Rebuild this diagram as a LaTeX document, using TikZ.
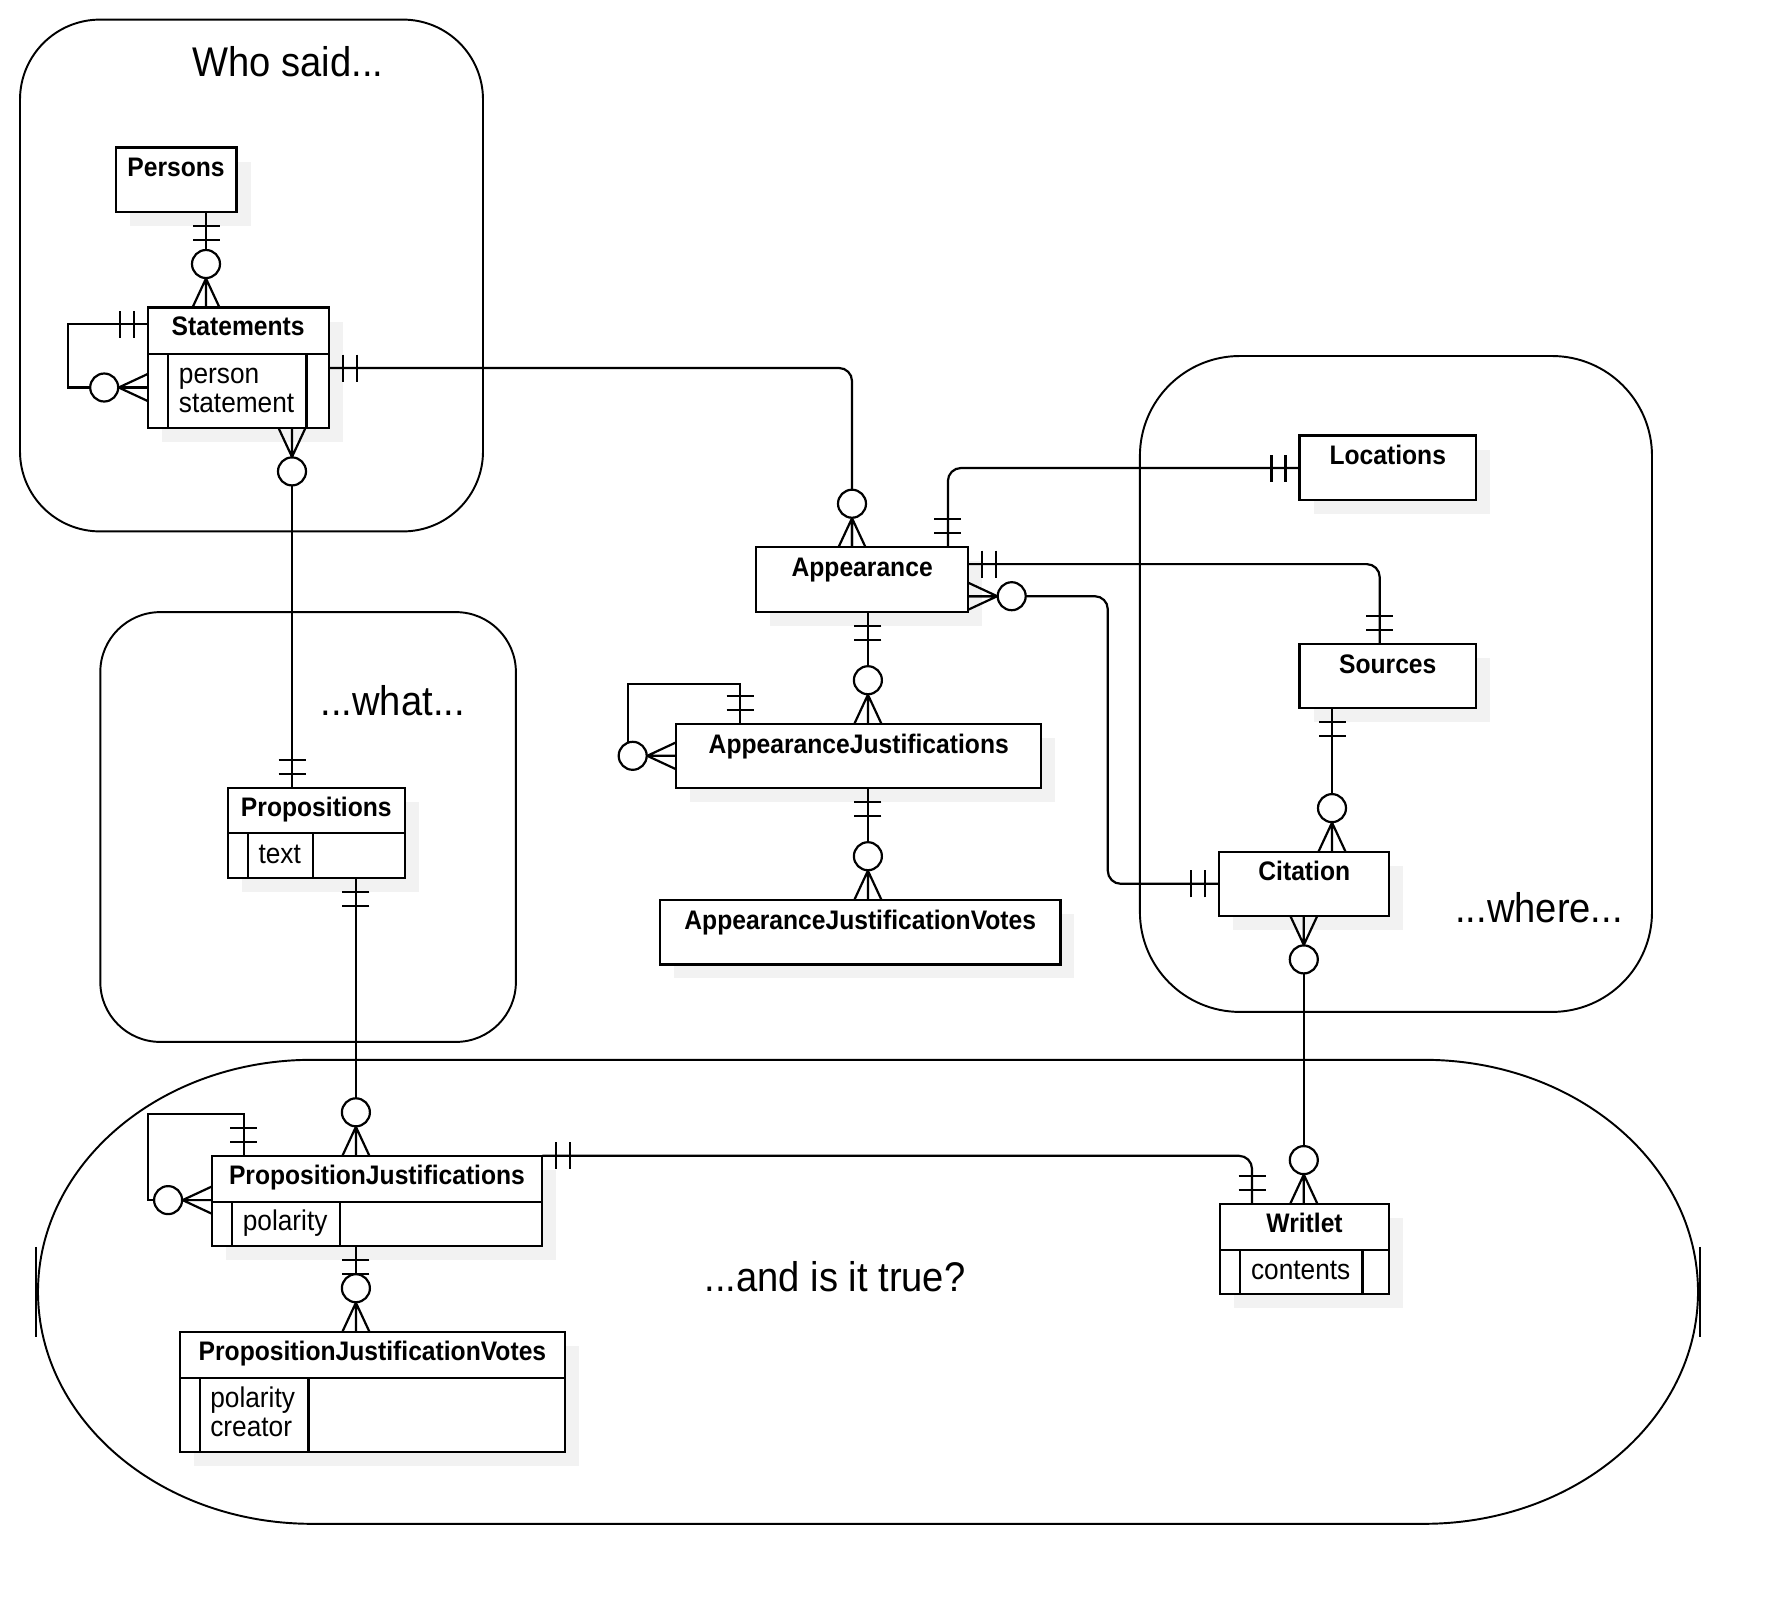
\documentclass[tikz,border=0pt]{standalone}
\usepackage{fontspec}
\setmainfont{Liberation Sans}[FakeStretch=0.92]
\usetikzlibrary{shadows}
\definecolor{shgray}{RGB}{242,242,242}
\tikzset{
  cont/.style={draw, line width=1.45pt},
  ebox/.style={draw, fill=white, line width=1.65pt, inner sep=0pt, outer sep=0pt,
    drop shadow={shadow xshift=10.5pt, shadow yshift=-10.5pt, fill=shgray, opacity=1}},
  eline/.style={line width=1.65pt},
  conn/.style={line width=1.65pt},
  rc/.style={rounded corners=9.75pt},
  mk/.style={line width=1.65pt},
  ttl/.style={anchor=base, inner sep=0pt, font=\bfseries\fontsize{20.1pt}{24pt}\selectfont},
  attr/.style={anchor=base west, inner sep=0pt, font=\fontsize{21.4pt}{25pt}\selectfont},
  biglabel/.style={anchor=base, inner sep=0pt, font=\fontsize{31.1pt}{36pt}\selectfont},
  mone/.pic={\draw[mk] (14,-13.5) -- (14,13.5) (28,-13.5) -- (28,13.5);},
  zmany/.pic={\draw[mk] (0,-13.5) -- (29,0) -- (0,13.5) (0,0) -- (29,0);
              \draw[mk, fill=white] (43.5,0) circle[radius=10.5pt];}
}
\newcommand\ent[5]{\node[ebox, minimum width={0.75pt*(#4-#2)}, minimum height={0.75pt*(#5-#3)}] (#1) at ({(#2+#4)/2},{(#3+#5)/2}) {};}
\begin{document}
\begin{tikzpicture}[x=0.75pt, y=-0.75pt]
\useasboundingbox (0,0) rectangle (1780,1604);
% containers
\draw[cont, rounded corners=60pt] (20,19.6) rectangle (483,531.4);
\draw[cont, rounded corners=45pt] (100.3,612.1) rectangle (515.9,1041.9);
\draw[cont, rounded corners=75pt] (1139.9,356) rectangle (1652,1011.9);
\draw[cont] (312,1059.8) -- (1424,1059.8)
  arc[start angle=90, end angle=-90, x radius=205.5pt, y radius=174pt]
  -- (312,1523.8)
  arc[start angle=270, end angle=90, x radius=205.5pt, y radius=174pt] -- cycle;
\draw[cont] (35.6,1246.8) -- (35.6,1337);
\draw[cont] (1699.7,1246.8) -- (1699.7,1337);
% labels
\node[biglabel] (lwho) at (288,76) {Who said...};
\node[biglabel] (lwhat) at (392.7,715.1) {...what...};
\node[biglabel] (lwhere) at (1539,922.6) {...where...};
\node[biglabel] (ltrue) at (835,1291) {...and is it true?};
% entities
\ent{persons}{115.6}{147.5}{236.5}{211.8}
\ent{statements}{147.7}{307.5}{328.7}{427.9}
\ent{propositions}{227.7}{787.8}{404.9}{877.7}
\ent{pj}{211.6}{1155.8}{542.3}{1245.8}
\ent{pjv}{179.9}{1331.7}{564.9}{1451.9}
\ent{writlet}{1219.8}{1203.6}{1389.3}{1293.7}
\ent{appearance}{756.1}{547.2}{968.2}{611.9}
\ent{aj}{676.2}{723.7}{1041.3}{788.3}
\ent{ajv}{660.1}{899.7}{1060.4}{964.4}
\ent{locations}{1299.5}{435.5}{1476}{499.8}
\ent{sources}{1299.5}{644}{1476}{707.9}
\ent{citation}{1219.3}{851.6}{1389.2}{915.9}
% dividers and columns
\draw[eline] (statements.west |- 0,354) -- (statements.east |- 0,354)
  (167.6,354) -- (167.6,0 |- statements.south) (306.5,354) -- (306.5,0 |- statements.south);
\draw[eline] (propositions.west |- 0,833.3) -- (propositions.east |- 0,833.3)
  (248,833.3) -- (248,0 |- propositions.south) (312.7,833.3) -- (312.7,0 |- propositions.south);
\draw[eline] (pj.west |- 0,1201.9) -- (pj.east |- 0,1201.9)
  (231.9,1201.9) -- (231.9,0 |- pj.south) (340.2,1201.9) -- (340.2,0 |- pj.south);
\draw[eline] (pjv.west |- 0,1378.1) -- (pjv.east |- 0,1378.1)
  (199.8,1378.1) -- (199.8,0 |- pjv.south) (308.5,1378.1) -- (308.5,0 |- pjv.south);
\draw[eline] (writlet.west |- 0,1249.8) -- (writlet.east |- 0,1249.8)
  (1240.1,1249.8) -- (1240.1,0 |- writlet.south) (1362.5,1249.8) -- (1362.5,0 |- writlet.south);
% titles
\node[ttl] (tpersons) at ([yshift=-22pt]persons.north) {Persons};
\node[ttl] (tstatements) at ([yshift=-21pt]statements.north) {Statements};
\node[ttl] (tpropositions) at ([yshift=-21.5pt]propositions.north) {Propositions};
\node[ttl] (tpj) at ([yshift=-21.5pt]pj.north) {PropositionJustifications};
\node[ttl] (tpjv) at ([yshift=-21.5pt]pjv.north) {PropositionJustificationVotes};
\node[ttl] (twritlet) at ([yshift=-21.5pt]writlet.north) {Writlet};
\node[ttl] (tappearance) at ([yshift=-22pt]appearance.north) {Appearance};
\node[ttl] (taj) at ([yshift=-22pt]aj.north) {AppearanceJustifications};
\node[ttl] (tajv) at ([yshift=-22pt]ajv.north) {AppearanceJustificationVotes};
\node[ttl] (tlocations) at ([yshift=-22pt]locations.north) {Locations};
\node[ttl] (tsources) at ([yshift=-22pt]sources.north) {Sources};
\node[ttl] (tcitation) at ([yshift=-22pt]citation.north) {Citation};
% attributes
\node[attr] (a1) at (178.7,383) {person};
\node[attr] (a2) at (178.7,412.5) {statement};
\node[attr] (a3) at (258.3,863) {text};
\node[attr] (a4) at (242.6,1230.6) {polarity};
\node[attr] (a5) at (210.1,1407.6) {polarity};
\node[attr] (a6) at (210.1,1436.8) {creator};
\node[attr] (a7) at (1250.8,1279.6) {contents};
% connectors
\draw[conn] (206,0 |- persons.south) -- (206,0 |- statements.north);
\draw[conn] (statements.west |- 0,324) -- (67.7,324) -- (67.7,387.5) -- (statements.west |- 0,387.5);
\draw[conn, rc] (statements.east |- 0,368) -- (852,368) -- (852,0 |- appearance.north);
\draw[conn] (292,0 |- statements.south) -- (292,0 |- propositions.north);
\draw[conn] (355.9,0 |- propositions.south) -- (355.9,0 |- pj.north);
\draw[conn] (243.8,0 |- pj.north) -- (243.8,1114.1) -- (147.7,1114.1) -- (147.7,1200.1) -- (pj.west |- 0,1200.1);
\draw[conn, rc] (pj.north east) -- (1252,1155.8) -- (1252,0 |- writlet.north);
\draw[conn] (355.9,0 |- pj.south) -- (355.9,0 |- pjv.north);
\draw[conn, rc] (947.9,0 |- appearance.north) -- (947.9,468) -- (locations.west |- 0,468);
\draw[conn, rc] (appearance.east |- 0,564.1) -- (1379.7,564.1) -- (1379.7,0 |- sources.north);
\draw[conn, rc] (appearance.east |- 0,596.2) -- (1107.8,596.2) -- (1107.8,883.8) -- (citation.west |- 0,883.8);
\draw[conn] (867.9,0 |- appearance.south) -- (867.9,0 |- aj.north);
\draw[conn] (740.1,0 |- aj.north) -- (740.1,684.2) -- (628,684.2) -- (628,755.8) -- (aj.west |- 0,755.8);
\draw[conn] (867.9,0 |- aj.south) -- (867.9,0 |- ajv.north);
\draw[conn] (1332,0 |- sources.south) -- (1332,0 |- citation.north);
\draw[conn] (1303.8,0 |- citation.south) -- (1303.8,0 |- writlet.north);
% markers
\pic[rotate=-90] at (206,0 |- persons.south) {mone};
\pic[rotate=90] at (206,0 |- statements.north) {zmany};
\pic[rotate=180] at (statements.west |- 0,324) {mone};
\pic[rotate=180] at (statements.west |- 0,387.5) {zmany};
\pic at (statements.east |- 0,368) {mone};
\pic[rotate=90] at (852,0 |- appearance.north) {zmany};
\pic[rotate=-90] at (292,0 |- statements.south) {zmany};
\pic[rotate=90] at (292,0 |- propositions.north) {mone};
\pic[rotate=-90] at (355.9,0 |- propositions.south) {mone};
\pic[rotate=90] at (355.9,0 |- pj.north) {zmany};
\pic[rotate=90] at (243.8,0 |- pj.north) {mone};
\pic[rotate=180] at (pj.west |- 0,1200.1) {zmany};
\pic at (pj.north east) {mone};
\pic[rotate=90] at (1252,0 |- writlet.north) {mone};
\pic[rotate=-90] at (355.9,0 |- pj.south) {mone};
\pic[rotate=90] at (355.9,0 |- pjv.north) {zmany};
\pic[rotate=90] at (947.9,0 |- appearance.north) {mone};
\pic[rotate=180] at (locations.west |- 0,468) {mone};
\pic at (appearance.east |- 0,564.1) {mone};
\pic[rotate=90] at (1379.7,0 |- sources.north) {mone};
\pic at (appearance.east |- 0,596.2) {zmany};
\pic[rotate=180] at (citation.west |- 0,883.8) {mone};
\pic[rotate=-90] at (867.9,0 |- appearance.south) {mone};
\pic[rotate=90] at (867.9,0 |- aj.north) {zmany};
\pic[rotate=90] at (740.1,0 |- aj.north) {mone};
\pic[rotate=180] at (aj.west |- 0,755.8) {zmany};
\pic[rotate=-90] at (867.9,0 |- aj.south) {mone};
\pic[rotate=90] at (867.9,0 |- ajv.north) {zmany};
\pic[rotate=-90] at (1332,0 |- sources.south) {mone};
\pic[rotate=90] at (1332,0 |- citation.north) {zmany};
\pic[rotate=-90] at (1303.8,0 |- citation.south) {zmany};
\pic[rotate=90] at (1303.8,0 |- writlet.north) {zmany};
\end{tikzpicture}
\end{document}
